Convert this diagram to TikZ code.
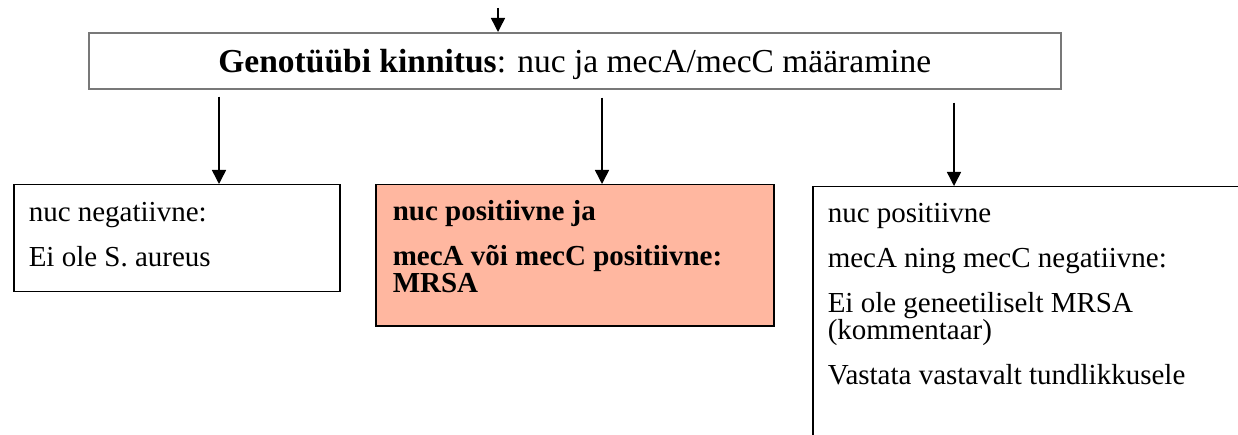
\documentclass[tikz,border=0pt]{standalone}
\usepackage{fontspec}
\setmainfont{Liberation Serif}
\usetikzlibrary{arrows.meta}
\definecolor{salmonfill}{RGB}{255,183,160}
\definecolor{framegray}{RGB}{120,120,120}
\newcommand\boxcontent[4]{\parbox[c][#2][t]{#1}{\fontsize{29}{27}\selectfont\lineskiplimit=-20pt\parskip=18pt\parindent=0pt\leftskip=#3\relax #4}}
\begin{document}
\begin{tikzpicture}[x=1pt,y=-1pt,
  box/.style={draw=black, line width=1.5pt, inner sep=0pt, anchor=north west},
  arr/.style={line width=1.5pt, -{Triangle[width=14pt,length=14pt]}}]
\useasboundingbox[fill=white] (0,0) rectangle (1238,435);
\coordinate (in) at (498,8);
\node[draw=framegray, line width=1.6pt, minimum width=972pt, minimum height=56pt,
      anchor=north west, inner sep=0pt, text height=24pt, text depth=0pt,
      font=\fontsize{33.5}{36}\selectfont] (geno) at (88,32)
      {\textbf{Genotüübi kinnitus}: nuc ja mecA/mecC määramine};
\node[box] (neg) at (13,184)
  {\boxcontent{326pt}{107pt}{15pt}{\rule{0pt}{37pt}nuc negatiivne:\par Ei ole S. aureus}};
\node[box, fill=salmonfill] (mrsa) at (375,184)
  {\boxcontent{398pt}{141pt}{17pt}{\bfseries\rule{0pt}{36pt}nuc positiivne ja\par mecA või mecC positiivne:\newline MRSA}};
\node[box] (pos) at (812,186)
  {\boxcontent{500pt}{300pt}{15pt}{\rule{0pt}{36pt}nuc positiivne\par mecA ning mecC negatiivne:\par Ei ole geneetiliselt MRSA\newline (kommentaar)\par Vastata vastavalt tundlikkusele}};
\draw[arr] (in) -- (in |- geno.north);
\coordinate (s1) at ([xshift=131pt,yshift=-7pt]geno.south west);
\coordinate (s2) at ([xshift=514pt,yshift=-8pt]geno.south west);
\coordinate (s3) at ([xshift=866pt,yshift=-13pt]geno.south west);
\draw[arr] (s1) -- (s1 |- neg.north);
\draw[arr] (s2) -- (s2 |- mrsa.north);
\draw[arr] (s3) -- (s3 |- pos.north);
\end{tikzpicture}
\end{document}
